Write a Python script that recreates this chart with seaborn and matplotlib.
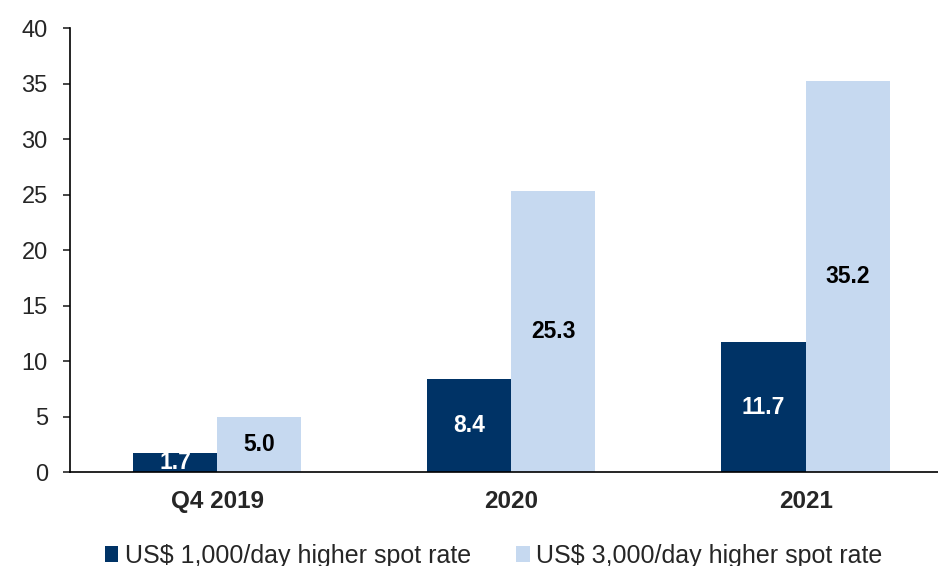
import numpy as np
import pandas as pd
from matplotlib import pyplot as plt
from matplotlib.patches import Patch
import seaborn as sns

periods = ["Q4 2019", "2020", "2021"]
series = ["US$ 1,000/day higher spot rate", "US$ 3,000/day higher spot rate"]
low_vals = [1.7, 8.4, 11.7]
high_vals = [5.0, 25.3, 35.2]
yticks = [0, 5, 10, 15, 20, 25, 30, 35, 40]

palette = {series[0]: "#003366", series[1]: "#C6D9F0"}
label_colors = {series[0]: "white", series[1]: "black"}

df = pd.DataFrame({
    "Period": periods * 2,
    "Series": [series[0]] * 3 + [series[1]] * 3,
    "Value": low_vals + high_vals,
})

sns.set_style("white")
plt.rcParams["font.family"] = ["Liberation Sans", "DejaVu Sans"]

fig = plt.figure(figsize=(9.38, 5.66), dpi=100)
ax = fig.add_axes([0.0746, 0.166, 0.9254, 0.7845])

sns.barplot(data=df, x="Period", y="Value", hue="Series", order=periods,
            hue_order=series, palette=palette, width=0.572, saturation=1,
            linewidth=0, legend=False, ax=ax)

# value labels in the middle of each bar
for cont, name in zip(ax.containers, series):
    ax.bar_label(cont, labels=[f"{v:.1f}" for v in cont.datavalues],
                 label_type="center", color=label_colors[name],
                 fontsize=16.5, fontweight="bold")

ax.set_ylim(0, 40)
ax.set_yticks(yticks)
ax.set_xlim(-0.5, 2.45)
ax.set_xlabel("")
ax.set_ylabel("")
ax.tick_params(axis="y", labelsize=17, length=5, width=1.2, direction="out",
               left=True, pad=11)
ax.tick_params(axis="x", labelsize=17.5, length=0, pad=13)
for lab in ax.get_xticklabels():
    lab.set_fontweight("bold")
for side in ["top", "right"]:
    ax.spines[side].set_visible(False)
for side in ["left", "bottom"]:
    ax.spines[side].set_color("black")
    ax.spines[side].set_linewidth(1.2)

handles = [Patch(facecolor=palette[s], edgecolor="none") for s in series]
fig.legend(handles, series, loc="lower center", bbox_to_anchor=(0.526, -0.043),
           ncol=2, frameon=False, fontsize=18, handlelength=0.55,
           handleheight=0.55, handletextpad=0.25, columnspacing=1.8)

plt.savefig("out.png", dpi=100)
